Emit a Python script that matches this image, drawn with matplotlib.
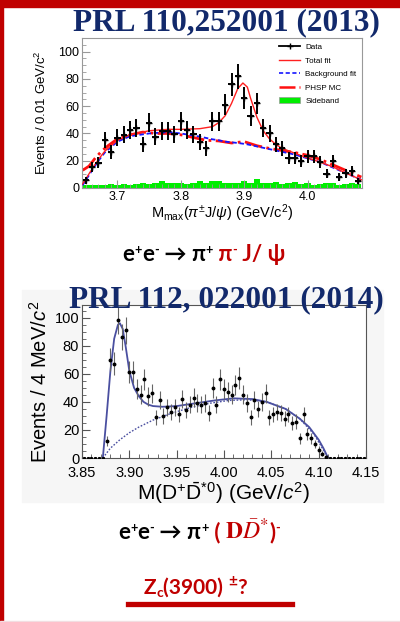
import numpy as np
import matplotlib.pyplot as plt
from matplotlib.patches import Rectangle, Patch
from matplotlib.lines import Line2D
from matplotlib.ticker import MultipleLocator

plt.rcParams['font.family'] = ['Liberation Sans', 'DejaVu Sans']
plt.rcParams['mathtext.fontset'] = 'custom'
plt.rcParams['mathtext.rm'] = 'Liberation Sans'
plt.rcParams['mathtext.it'] = 'Liberation Sans:italic'
plt.rcParams['mathtext.bf'] = 'Liberation Sans:bold'

# ---- top panel: M_max(pi J/psi), BESIII 2013 ----
top_x = [3.65, 3.66, 3.67, 3.68, 3.69, 3.70, 3.71, 3.72, 3.73, 3.74, 3.75,
         3.76, 3.77, 3.78, 3.79, 3.80, 3.81, 3.82, 3.83, 3.84, 3.85, 3.86,
         3.87, 3.88, 3.89, 3.90, 3.91, 3.92, 3.93, 3.94, 3.95, 3.96, 3.97,
         3.98, 3.99, 4.00, 4.01, 4.02, 4.03, 4.04, 4.05, 4.06, 4.07, 4.08]
top_y = [5.7, 15.5, 18.7, 35, 26.6, 37, 39, 42.6, 44, 32, 48, 37.7, 42, 42,
         39.4, 49, 42.6, 39.4, 34, 29, 48.8, 48.8, 61, 76, 82, 66, 53, 62, 44,
         40, 32, 29, 22, 22, 20, 23.4, 23.4, 19, 10.6, 20, 8, 11, 12.6, 5]
top_err = [2.4, 3.9, 4.3, 5.9, 5.2, 6.1, 6.2, 6.5, 6.6, 5.7, 6.9, 6.1, 6.5,
           6.5, 6.3, 7.0, 6.5, 6.3, 5.8, 5.4, 7.0, 7.0, 7.8, 8.7, 9.1, 8.1,
           7.3, 7.9, 6.6, 6.3, 5.7, 5.4, 4.7, 4.7, 4.5, 4.8, 4.8, 4.4, 3.3,
           4.5, 2.8, 3.3, 3.5, 2.2]
sideband = [2, 2.5, 2, 2.5, 3, 2.5, 3, 2.5, 3, 3.5, 3, 3.5, 5.5, 4, 3.5, 4,
            3, 4, 5, 4, 5.5, 5, 4, 3.5, 4, 5, 4, 6.5, 4, 3.5, 4.5, 3, 4, 4.5,
            3, 3.5, 2.5, 3, 4, 3.5, 2.5, 3, 3.5, 3]

curve_x = [3.645, 3.66, 3.67, 3.68, 3.70, 3.72, 3.75, 3.78, 3.80, 3.83, 3.85,
           3.86, 3.87, 3.88, 3.89, 3.898, 3.905, 3.91, 3.92, 3.93, 3.94,
           3.95, 3.96, 3.98, 4.00, 4.02, 4.04, 4.06, 4.085]
total_fit = [3, 14, 21, 27, 35, 39, 42, 43, 43, 43.5, 45, 48, 53, 62, 73, 77,
             74, 66, 52, 42, 36, 32, 29, 25.5, 22, 19, 15.5, 11, 6]
bkg_fit = [2, 13, 20, 26, 34, 38, 40, 41, 40, 37.7, 35.7, 35, 34, 33.5, 33,
           32.5, 32, 31.5, 30.5, 29.5, 28.5, 27.5, 26.5, 24.5, 21.7, 19, 15,
           11, 6]
phsp_x = [3.645, 3.655, 3.665, 3.675, 3.685, 3.70, 3.72, 3.74, 3.76, 3.78,
          3.80, 3.82, 3.84, 3.86, 3.88, 3.90, 3.92, 3.94, 3.96, 3.98, 4.00,
          4.02, 4.04, 4.06, 4.085]
phsp_mc = [13, 16, 22, 27, 31, 36, 39, 41, 40, 40, 39, 37, 35, 34.5, 33, 34,
           31, 29, 27.5, 26, 24, 21, 17, 13, 8]

# ---- bottom panel: M(D+ D*0bar), BESIII 2014 ----
bot_x = [3.876, 3.880, 3.884, 3.888, 3.892, 3.896, 3.900, 3.904, 3.908,
         3.912, 3.916, 3.920, 3.924, 3.928, 3.932, 3.936, 3.940, 3.944,
         3.948, 3.952, 3.956, 3.960, 3.964, 3.968, 3.972, 3.976, 3.980,
         3.984, 3.988, 3.992, 3.996, 4.000, 4.004, 4.008, 4.012, 4.016,
         4.020, 4.024, 4.028, 4.032, 4.036, 4.040, 4.044, 4.048, 4.052,
         4.056, 4.060, 4.064, 4.068, 4.072, 4.076, 4.080, 4.084, 4.088,
         4.092, 4.096, 4.100, 4.104, 4.108]
bot_y = [12, 70, 67, 98, 86, 91, 61, 61, 49, 45, 56, 44, 46, 29, 41, 30, 36,
         33, 36, 31, 42, 34, 38, 43, 39, 38, 39, 32, 50, 38, 56, 49, 47, 45,
         52, 57, 45, 39, 29, 41, 35, 40, 46, 29, 31, 33, 32, 28, 31, 25, 26,
         14, 31, 17, 14, 10, 6, 3, 1]
bot_zero_x = [3.852, 3.856, 3.860, 3.864, 3.868, 3.872, 4.112, 4.116, 4.120,
              4.124, 4.128, 4.132, 4.136, 4.140, 4.144, 4.148]
bfit_x = [3.872, 3.876, 3.880, 3.884, 3.888, 3.890, 3.893, 3.896, 3.900,
          3.905, 3.910, 3.915, 3.920, 3.925, 3.935, 3.95, 3.97, 3.99, 4.01,
          4.03, 4.045, 4.065, 4.08, 4.09, 4.10, 4.105, 4.110]
bfit_y = [0, 30, 62, 85, 95, 96, 92, 80, 62, 50, 44, 40, 38, 37, 36.5, 37,
          39, 41, 42.5, 42, 40, 35, 28, 22, 13, 7, 0]
bbkg_x = [3.872, 3.880, 3.890, 3.900, 3.910, 3.925, 3.945, 3.965, 3.985,
          4.005, 4.025, 4.045, 4.065, 4.080, 4.095, 4.110]
bbkg_y = [0, 7, 13, 18, 22, 27, 32, 36, 39, 41, 41.5, 40, 35, 28, 17, 0]

fig = plt.figure(figsize=(4, 6.22), dpi=100)
W, H = 400, 622


def fx(px):
    return px / W


def fy(py):
    return 1 - py / H


# slide decoration
fig.add_artist(Rectangle((fx(22), fy(502)), fx(361), (502 - 290) / H,
                         color='#f6f6f6', zorder=0))
fig.add_artist(Rectangle((0, fy(7)), 1, 7 / H, color='#c00000', zorder=5))
fig.add_artist(Rectangle((0, 0), fx(3), 1, color='#c00000', zorder=5))
fig.add_artist(Rectangle((0, 0), 1, 1.5 / H, color='#f2dde1', zorder=5))

# top panel
ax1 = fig.add_axes([fx(82), fy(188), fx(280), (188 - 38) / H])
ax1.bar(top_x, sideband, width=0.01, color='#00ee00', lw=0, zorder=1)
ax1.plot(phsp_x, phsp_mc, color='#ff1010', lw=2, ls='-.', zorder=2)
ax1.plot(curve_x, bkg_fit, color='#1515ff', lw=1.3, ls=(0, (2.5, 1.5)), zorder=3)
ax1.plot(curve_x, total_fit, color='#ff2020', lw=1.0, zorder=3)
ax1.errorbar(top_x, top_y, yerr=top_err, xerr=0.005, fmt='+', color='black',
             ms=4, elinewidth=1.4, capsize=0, zorder=4)
ax1.set_xlim(3.644, 4.086)
ax1.set_ylim(0, 110)
ax1.xaxis.set_major_locator(MultipleLocator(0.1))
ax1.xaxis.set_minor_locator(MultipleLocator(0.01))
ax1.yaxis.set_major_locator(MultipleLocator(20))
ax1.yaxis.set_minor_locator(MultipleLocator(5))
ax1.tick_params(which='both', direction='in', labelsize=9, color='#999999',
                pad=2)
ax1.tick_params(which='major', length=6)
ax1.tick_params(which='minor', length=3)
for s in ax1.spines.values():
    s.set_color('#999999')
ax1.set_ylabel(r'Events / 0.01 GeV/c$^2$', fontsize=9.5, labelpad=7)
ax1.set_xlabel(r'M$_{\rm max}$($\pi^{\pm}$J/$\psi$) (GeV/c$^2$)', fontsize=10.5,
               labelpad=0)

handles = [
    Line2D([], [], color='black', marker='+', ms=5, lw=1.3),
    Line2D([], [], color='#ff2020', lw=1.0),
    Line2D([], [], color='#1515ff', lw=1.2, ls=(0, (2.5, 1.5))),
    Line2D([], [], color='#ff1010', lw=1.8, ls='-.'),
    Patch(facecolor='#00ee00', edgecolor='#999999', lw=0.5),
]
labels = ['Data', 'Total fit', 'Background fit', 'PHSP MC', 'Sideband']
ax1.legend(handles, labels, loc='upper right', fontsize=5.8, frameon=False,
           handlelength=2.6, handletextpad=0.6, labelspacing=0.72,
           borderaxespad=0.3, bbox_to_anchor=(1.0, 1.0))

# bottom panel
ax2 = fig.add_axes([fx(82), fy(458), fx(284), (458 - 305) / H])
ax2.plot(bbkg_x, bbkg_y, color='#4a4fa0', lw=1.0, ls=(0, (1.2, 1.2)), zorder=2)
ax2.plot(bfit_x, bfit_y, color='#4a4fa0', lw=1.3, zorder=3)
ax2.errorbar(bot_x, bot_y, yerr=[np.sqrt(v) for v in bot_y], fmt='o',
             color='black', ms=1.8, elinewidth=0.8, ecolor='#666666',
             zorder=4)
ax2.plot(bot_zero_x, [0.3] * len(bot_zero_x), 's', color='black', ms=1.2,
         zorder=4)
ax2.set_xlim(3.85, 4.15)
ax2.set_ylim(0, 109)
ax2.xaxis.set_major_locator(MultipleLocator(0.05))
ax2.xaxis.set_minor_locator(MultipleLocator(0.01))
ax2.yaxis.set_major_locator(MultipleLocator(20))
ax2.yaxis.set_minor_locator(MultipleLocator(5))
ax2.xaxis.set_major_formatter(plt.FuncFormatter(lambda v, p: f'{v:.2f}'))
ax2.tick_params(which='both', direction='in', labelsize=10.5, color='#555555',
                pad=2)
ax2.tick_params(axis='x', pad=6)
ax2.tick_params(which='major', length=6)
ax2.tick_params(which='minor', length=3)
for s in ax2.spines.values():
    s.set_color('#555555')
ax2.set_ylabel(r'Events / 4 MeV/$c^2$', fontsize=14.5, labelpad=3)
ax2.set_xlabel(r'M(D$^{+}\bar{\mathrm{D}}^{*0}$) (GeV/$c^2$)', fontsize=15,
               labelpad=0)

# slide texts
navy = '#12296b'
fig.text(fx(226), fy(23), 'PRL 110,252001 (2013)', ha='center', va='center',
         family='Liberation Serif', weight='bold', fontsize=22.5, color=navy)
fig.text(fx(226), fy(300), 'PRL 112, 022001 (2014)', ha='center',
         va='center', family='Liberation Serif', weight='bold', fontsize=22.5,
         color=navy, zorder=10)

red = '#c00000'
renderer = fig.canvas.get_renderer()


def text_runs(yc, xc, parts):
    # parts: (text, color, size, dy, extra kwargs)
    arts = []
    for txt, col, size, dy, kw in parts:
        t = fig.text(0, fy(yc + dy), txt, color=col, fontsize=size,
                     va='baseline', ha='left', weight='bold', **kw)
        arts.append(t)
    widths = [a.get_window_extent(renderer).width for a in arts]
    x = xc - sum(widths) / 2
    for a, w in zip(arts, widths):
        a.set_x(fx(x))
        x += w


sans = dict(family=['Lato', 'DejaVu Sans'])
text_runs(261, 204, [('e', 'black', 16, 0, sans), ('+', 'black', 9, -7, sans),
                     ('e', 'black', 16, 0, sans), ('-', 'black', 9, -7, sans),
                     (' \u2192 \u03c0', 'black', 16, 0, sans),
                     ('+', 'black', 9, -7, sans),
                     (' \u03c0', red, 16, 0, sans), ('-', red, 9, -7, sans),
                     (' J/ \u03c8', red, 16, 0, sans)])
text_runs(539, 199, [('e', 'black', 16, 0, sans), ('+', 'black', 9, -7, sans),
                     ('e', 'black', 16, 0, sans), ('-', 'black', 9, -7, sans),
                     (' \u2192 \u03c0', 'black', 16, 0, sans),
                     ('+', 'black', 9, -7, sans),
                     (' ( ', red, 16, 0, sans),
                     (r'$\mathbf{D}\bar{D}^{*}$', red, 17, 0,
                      dict(math_fontfamily='stix')),
                     (')', red, 16, 0, sans), ('-', red, 9, -7, sans)])
text_runs(594, 195, [('Z', red, 15, 0, sans), ('c', red, 10, 3, sans),
                     ('(3900) ', red, 15, 0, sans), ('\u00b1', red, 11, -8, sans),
                     ('?', red, 15, 0, sans)])
fig.add_artist(Line2D([fx(128), fx(292)], [fy(604), fy(604)], color=red,
                      lw=3.8))

fig.savefig('out.png', dpi=100)
